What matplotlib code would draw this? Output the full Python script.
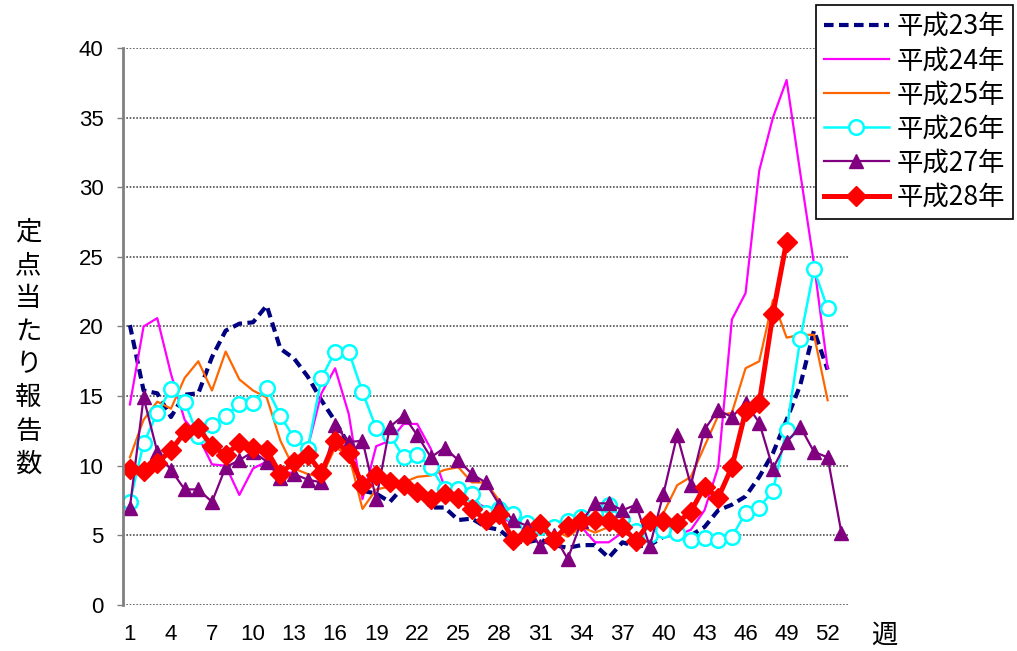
import matplotlib
matplotlib.use("Agg")
import matplotlib.pyplot as plt

JP = ["Noto Sans CJK JP", "DejaVu Sans"]

# weekly values
h23 = [20.1, 15.4, 15.2, 13.5, 15.1, 15.2, 17.8, 19.7, 20.2, 20.3, 21.5, 18.4, 17.7,
       16.4, 14.7, 13.2, 11.5, 8.2, 8.0, 7.4, 8.5, 8.3, 7.0, 7.0, 6.1, 6.2, 5.6, 5.4,
       4.6, 4.5, 4.7, 4.3, 4.1, 4.3, 4.3, 3.4, 4.5, 4.2, 4.3, 4.9, 5.2, 5.0, 5.6, 6.8,
       7.2, 7.8, 9.2, 10.9, 13.3, 15.8, 19.7, 16.9]
h24 = [14.4, 20.0, 20.6, 16.6, 13.3, 12.1, 10.1, 10.0, 7.9, 9.8, 10.3, 9.5, 9.5,
       11.3, 15.2, 17.0, 13.7, 7.6, 11.4, 11.8, 13.0, 13.0, 11.2, 8.5, 8.0, 7.5, 7.0,
       6.3, 5.9, 5.6, 5.5, 6.0, 5.6, 5.6, 4.5, 4.5, 5.2, 5.0, 4.9, 4.9, 5.0, 5.4, 6.8,
       9.9, 20.5, 22.4, 31.2, 35.0, 37.7, 31.0, 24.5, 17.0]
h25 = [10.6, 13.3, 14.6, 14.1, 16.3, 17.5, 15.4, 18.2, 16.2, 15.4, 14.9, 11.8, 9.8,
       9.4, 9.2, 11.3, 10.8, 6.9, 8.3, 8.5, 8.8, 9.2, 9.3, 9.7, 9.9, 8.8, 8.8, 7.5,
       6.6, 6.0, 5.5, 5.4, 4.9, 5.6, 5.2, 5.6, 5.2, 4.9, 5.4, 6.6, 8.6, 9.2, 11.4,
       13.6, 13.8, 17.0, 17.5, 21.9, 19.2, 19.4, 19.4, 14.7]
h26 = [7.4, 11.6, 13.8, 15.5, 14.6, 12.1, 12.9, 13.6, 14.4, 14.5, 15.6, 13.6, 12.0,
       11.2, 16.3, 18.2, 18.2, 15.3, 12.7, 12.2, 10.6, 10.8, 9.9, 8.3, 8.3, 8.0, 6.6,
       6.9, 6.5, 5.9, 5.6, 5.6, 6.0, 6.3, 6.5, 7.2, 6.2, 5.3, 5.0, 5.4, 5.2, 4.7, 4.8,
       4.7, 4.9, 6.6, 7.0, 8.2, 12.6, 19.1, 24.1, 21.3]
h27 = [7.0, 14.9, 11.0, 9.7, 8.3, 8.3, 7.4, 9.9, 10.4, 11.0, 10.3, 9.1, 9.4, 9.0,
       8.8, 12.9, 11.7, 11.8, 7.6, 12.8, 13.6, 12.2, 10.6, 11.3, 10.4, 9.4, 8.8, 7.2,
       6.1, 5.7, 4.2, 5.0, 3.3, 6.0, 7.3, 7.3, 6.8, 7.2, 4.2, 8.0, 12.2, 8.6, 12.6,
       14.0, 13.5, 14.5, 13.1, 9.8, 11.7, 12.8, 11.0, 10.6, 5.2]
h28 = [9.8, 9.6, 10.2, 11.1, 12.4, 12.7, 11.4, 10.8, 11.6, 11.3, 11.1, 9.4, 10.3,
       10.8, 9.5, 11.8, 10.9, 8.6, 9.3, 8.8, 8.6, 8.1, 7.6, 8.0, 7.7, 6.9, 6.1, 6.5,
       4.7, 5.0, 5.8, 4.7, 5.7, 6.0, 6.1, 6.0, 5.6, 4.6, 6.0, 6.0, 5.9, 6.7, 8.5, 7.7,
       9.9, 13.9, 14.5, 20.9, 26.1]

labels = ["平成23年", "平成24年", "平成25年", "平成26年", "平成27年", "平成28年"]
xticks = list(range(1, 53, 3))
yticks = [0, 5, 10, 15, 20, 25, 30, 35, 40]


def weeks(vals):
    return list(range(1, len(vals) + 1))


fig = plt.figure(figsize=(10.17, 6.51), dpi=100)
ax = fig.add_axes([0.121, 0.0707, 0.713, 0.8556])

ax.plot(weeks(h23), h23, color="#000080", lw=3, dashes=(2.3, 1.3), label=labels[0])
ax.plot(weeks(h24), h24, color="#FF00FF", lw=1.6, label=labels[1])
ax.plot(weeks(h25), h25, color="#FF6600", lw=1.6, label=labels[2])
ax.plot(weeks(h26), h26, color="#00FFFF", lw=1.8, marker="o", ms=10.5,
        mfc="white", mec="#00FFFF", mew=1.8, label=labels[3])
ax.plot(weeks(h27), h27, color="#800080", lw=1.6, marker="^", ms=10.5,
        mfc="#800080", mec="#800080", label=labels[4])
ax.plot(weeks(h28), h28, color="#FF0000", lw=3.6, marker="D", ms=10,
        mfc="#FF0000", mec="#FF0000", label=labels[5])

ax.set_xlim(0.5, 53.5)
ax.set_ylim(0, 40)
ax.set_yticks(yticks)
ax.set_xticks(xticks)
ax.set_xticklabels([str(t) for t in xticks], family="Liberation Sans", fontsize=16)
ax.set_yticklabels([str(t) for t in yticks], family="Liberation Sans", fontsize=16)
ax.tick_params(axis="x", length=0, pad=14)
ax.tick_params(axis="y", length=4, width=1, color="#808080", pad=10)

ax.grid(axis="y", linestyle=(0, (1, 1)), color="#505050", lw=1.2)
ax.set_axisbelow(True)
for s in ["top", "right", "bottom"]:
    ax.spines[s].set_visible(False)
ax.spines["left"].set_color("#808080")
ax.spines["left"].set_linewidth(2)

fig.text(0.028, 0.465, "\n".join("定点当たり報告数"), family=JP, fontsize=19,
         ha="center", va="center", linespacing=1.29)
fig.text(0.870, 0.025, "週", family=JP, fontsize=19, ha="center", va="center")

leg = fig.legend(loc="upper right", bbox_to_anchor=(0.996, 0.992), borderaxespad=0,
                 prop={"family": JP, "size": 19},
                 frameon=True, fancybox=False, edgecolor="black", framealpha=1,
                 handlelength=2.45, handletextpad=0.3, labelspacing=0.27, borderpad=0.3)
leg.get_frame().set_linewidth(1.2)

fig.savefig("out.png", dpi=100)
